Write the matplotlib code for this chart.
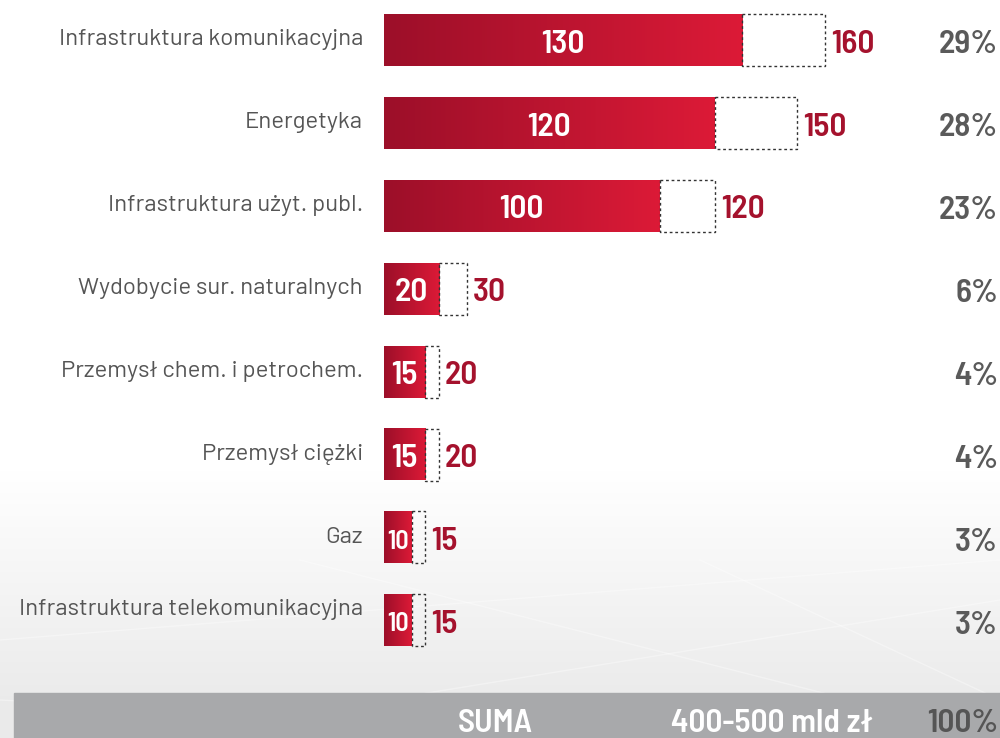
import numpy as np
import matplotlib
matplotlib.use("Agg")
import matplotlib.pyplot as plt
from matplotlib.patches import Rectangle
from matplotlib import font_manager as fm

categories = ["Infrastruktura komunikacyjna", "Energetyka", "Infrastruktura użyt. publ.",
              "Wydobycie sur. naturalnych", "Przemysł chem. i petrochem.", "Przemysł ciężki",
              "Gaz", "Infrastruktura telekomunikacyjna"]
low_values = [130, 120, 100, 20, 15, 15, 10, 10]
high_values = [160, 150, 120, 30, 20, 20, 15, 15]
shares = ["29%", "28%", "23%", "6%", "4%", "4%", "3%", "3%"]
total_label = "SUMA"
total_value = "400-500 mld zł"
total_share = "100%"

names = {f.name for f in fm.fontManager.ttflist}
cond = "Barlow Semi Condensed" if "Barlow Semi Condensed" in names else "DejaVu Sans"
regular = "Barlow" if "Barlow" in names else ("Roboto" if "Roboto" in names else "DejaVu Sans")

W, H = 1000, 738
fig = plt.figure(figsize=(W / 100, H / 100), dpi=100)

# background
bg = fig.add_axes([0, 0, 1, 1])
bg.set_axis_off()
yy = np.arange(H)
g = np.where(yy < 470, 1.0, 1.0 - 0.08 * np.clip((yy - 470) / 230, 0, 1))
grad = np.repeat(g[:, None], 2, axis=1)
bg.imshow(np.dstack([grad, grad, grad]), extent=[0, W, H, 0], aspect="auto")
bg.set_xlim(0, W)
bg.set_ylim(H, 0)
for (x0, y0, x1, y1) in [(0, 640, 1000, 560), (0, 700, 700, 738), (150, 738, 1000, 600),
                         (300, 560, 1000, 738), (700, 560, 1000, 700)]:
    bg.plot([x0, x1], [y0, y1], color="white", lw=1.0, alpha=0.35)
bg.add_patch(Rectangle((14, 693), W - 14, 45, color="#a8a9ab", zorder=3))
bg.text(495, 723, total_label, ha="center", va="center", color="white",
        fontsize=24, fontweight=600, family=cond, zorder=4)
bg.text(772, 723, total_value, ha="center", va="center", color="white",
        fontsize=24, fontweight=600, family=cond, zorder=4)
bg.text(998, 723, total_share, ha="right", va="center", color="#555555",
        fontsize=24, fontweight=600, family=cond, zorder=4)

# main axes
ax = fig.add_axes([0, 0, 1, 1])
ax.set_axis_off()
ax.patch.set_alpha(0)
px = 2.756
row = 82.9
ax.set_xlim(-384 / px, (W - 384) / px)
ax.set_ylim((H - 40) / row, -40 / row)
bh = 52 / row

cmap = matplotlib.colors.LinearSegmentedColormap.from_list("r", ["#9c0f29", "#dc1a37"])
gradient = np.linspace(0, 1, 256)[None, :]
for i, (lo, hi, cat, sh) in enumerate(zip(low_values, high_values, categories, shares)):
    ax.imshow(gradient, cmap=cmap, extent=[0, lo, i + bh / 2, i - bh / 2],
              aspect="auto", zorder=2)
    ax.add_patch(Rectangle((lo, i - bh / 2), hi - lo, bh, facecolor="none",
                           edgecolor="#333333", lw=1.0, ls=(0, (2, 2)), zorder=3))
    ax.text(lo / 2, i + 0.05, str(lo), ha="center", va="center", color="white",
            fontsize=24 if lo >= 15 else 19, fontweight=600, family=cond, zorder=4)
    ax.text(hi + 6 / px, i + 0.05, str(hi), ha="left", va="center", color="#a5122d",
            fontsize=24, fontweight=600, family=cond, zorder=4)
    dy = -0.13 if i == len(categories) - 1 else 0.0
    ax.text(-21 / px, i + dy, cat, ha="right", va="center", color="#555555",
            fontsize=17.2, family=regular, zorder=4)
    ax.text((998 - 384) / px, i + 0.06, sh, ha="right", va="center", color="#5a5a5a",
            fontsize=24, fontweight=600, family=cond, zorder=4)

fig.savefig("out.png", dpi=100)
